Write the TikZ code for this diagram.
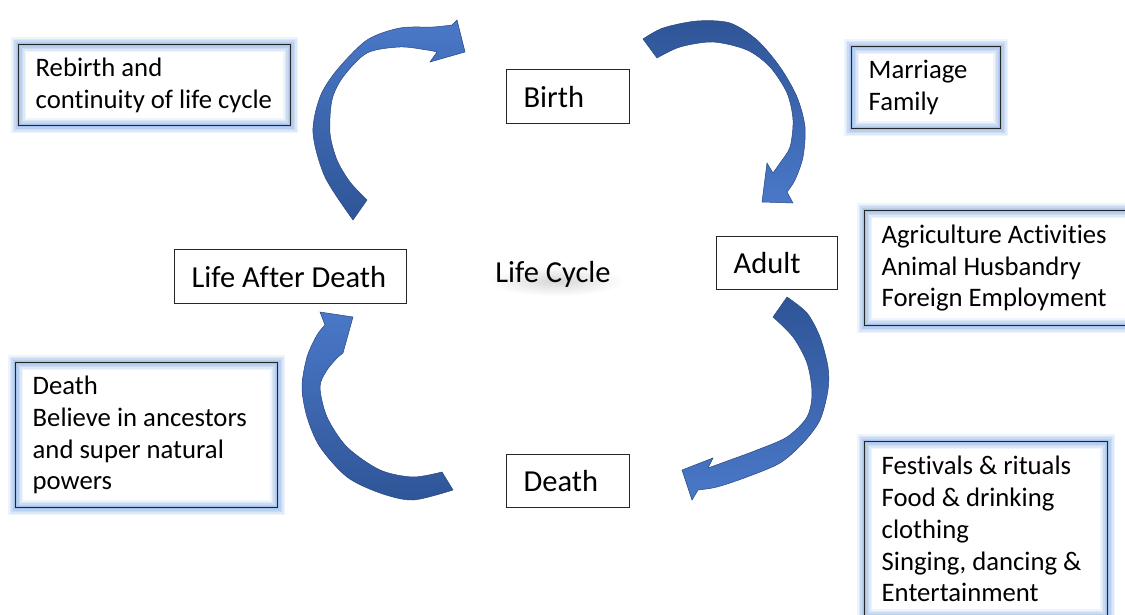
\documentclass[tikz,border=0pt]{standalone}
\usepackage{fontspec}
\setmainfont[Ligatures=NoCommon]{Carlito}
\definecolor{arrowlight}{HTML}{4A78C8}
\definecolor{arrowdark}{HTML}{2F5597}
\definecolor{glow}{HTML}{5B8FD8}
\definecolor{frame}{HTML}{262626}
\begin{document}
\begin{tikzpicture}[x=1pt,y=-1pt,
  notefont/.style={font=\fontsize{26.7}{31.7}\selectfont},
  stagebox/.style={draw=frame, line width=1.3pt, inner xsep=17pt, inner ysep=0pt,
    anchor=north west, align=flush left, font=\fontsize{30.5}{36}\selectfont},
  notebox/.style={draw=frame, line width=1.4pt, inner xsep=17pt, inner ysep=0pt,
    anchor=north west, align=flush left, notefont,
    preaction={draw=glow, draw opacity=0.10, line width=15pt},
    preaction={draw=glow, draw opacity=0.12, line width=12pt},
    preaction={draw=glow, draw opacity=0.14, line width=9pt},
    preaction={draw=glow, draw opacity=0.16, line width=6pt},
    preaction={draw=glow, draw opacity=0.20, line width=3.5pt}},
  cyclearrow/.style={draw=arrowdark!85!black, line width=0.5pt}
]
\useasboundingbox (0,0) rectangle (1125,615);
\clip (0,0) rectangle (1125,615);

% stages of the cycle
\node[stagebox, text width=89pt,  minimum height=54pt] (birth) at (506,69)  {Birth};
\node[stagebox, text width=87pt,  minimum height=53pt] (adult) at (716,236) {Adult};
\node[stagebox, text width=89pt,  minimum height=53pt] (death) at (506,454) {Death};
\node[stagebox, text width=198pt, minimum height=54pt] (afterlife) at (174,249) {Life After Death};

% centre title with a soft grey haze below it
\shade[inner color=black!16, outer color=white] (556,281) ellipse [x radius=68pt, y radius=15pt];
\node[font=\fontsize{30.5}{36}\selectfont] (cycle) at (553,274) {Life Cycle};

% notes beside each stage
\node[notebox, text width=238pt, minimum height=81pt]  (rebirth)   at (18,44)   {Rebirth and\\continuity of life cycle};
\node[notebox, text width=115pt, minimum height=82pt]  (marriage)  at (851,46)  {Marriage\\Family};
\node[notebox, text width=240pt, minimum height=115pt] (work)      at (864,210) {Agriculture Activities\\Animal Husbandry\\Foreign Employment};
\node[notebox, text width=228pt, minimum height=145pt] (ancestors) at (15,362)  {Death\\Believe in ancestors\\and super natural\\powers};
\node[notebox, text width=209pt, minimum height=175pt] (festivals) at (864,441) {Festivals \& rituals\\Food \& drinking\\clothing\\Singing, dancing \&\\Entertainment};

% curved arrows running round the cycle
% life after death -> birth
\path[cyclearrow, top color=arrowlight, bottom color=arrowdark]
  plot[smooth] coordinates {(353,220) (325,177) (313,133) (320,97) (337,70) (367,40) (400,28) (433,27) (452,25)}
  -- (457,20) -- (465,52) -- (430,62) -- (437,52)
  -- plot[smooth] coordinates {(437,52) (427,50) (400,47) (367,53) (343,77) (332,100) (330,133) (337,160) (350,182) (367,200)}
  -- cycle;
% birth -> adult
\path[cyclearrow, top color=arrowdark, bottom color=arrowlight]
  plot[smooth] coordinates {(643,39) (663,28) (697,21) (730,23) (757,40) (780,67) (797,97) (805,127) (803,157) (795,180) (787,192)}
  -- (793,203) -- (762,202) -- (767,163) -- (773,173)
  -- plot[smooth] coordinates {(773,173) (780,163) (790,147) (793,120) (787,93) (770,67) (747,50) (713,42) (680,47) (657,58)}
  -- cycle;
% adult -> death
\path[cyclearrow, top color=arrowdark, bottom color=arrowlight]
  plot[smooth] coordinates {(787,297) (807,313) (820,337) (828,367) (828,390) (820,420) (803,443) (780,463) (747,477) (717,487) (698,490)}
  -- (692,500) -- (682,470) -- (713,458) -- (708,468)
  -- plot[smooth] coordinates {(708,468) (730,460) (757,450) (787,437) (807,417) (812,393) (807,363) (793,337) (773,317)}
  -- cycle;
% death -> life after death
\path[cyclearrow, top color=arrowlight, bottom color=arrowdark]
  plot[smooth] coordinates {(453,490) (413,500) (380,493) (347,477) (320,447) (307,417) (302,387) (307,357) (317,335) (325,325)}
  -- (320,312) -- (353,317) -- (343,353) -- (338,357)
  -- plot[smooth] coordinates {(338,357) (327,370) (320,387) (327,417) (347,447) (380,470) (413,477) (442,472)}
  -- cycle;
\end{tikzpicture}
\end{document}
